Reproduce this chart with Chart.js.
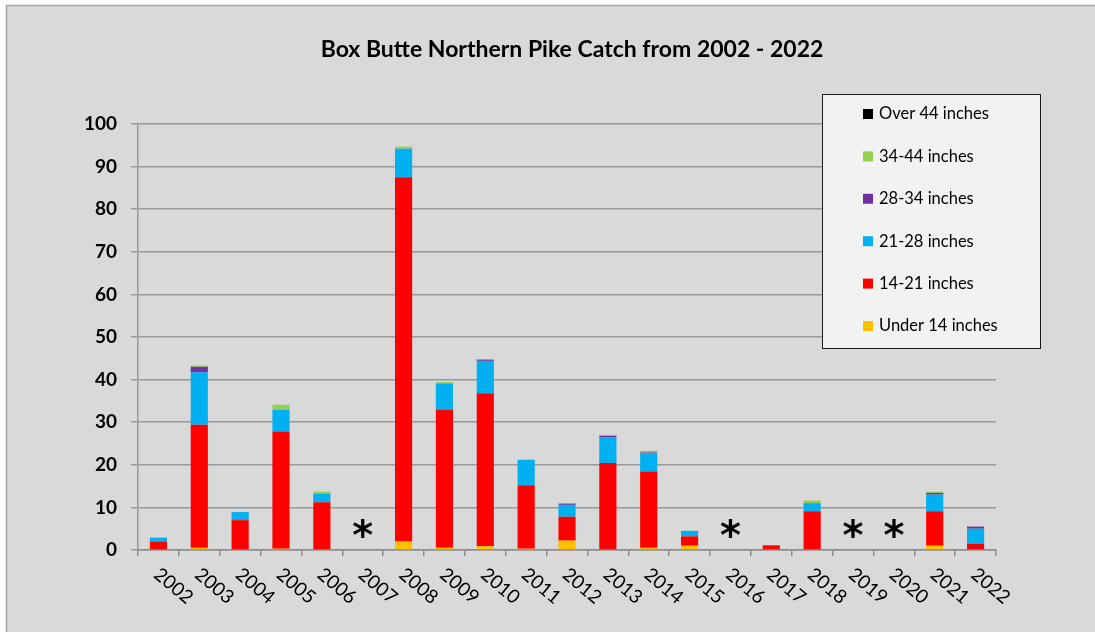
<!DOCTYPE html>
<html>
<head>
<meta charset="utf-8">
<title>Box Butte Northern Pike Catch</title>
<script src="https://cdn.jsdelivr.net/npm/chart.js@4/dist/chart.umd.min.js"></script>
<style>
  html, body { margin: 0; padding: 0; background: #ffffff; }
  #wrap { width: 1095px; height: 632px; }
</style>
</head>
<body>
<div id="wrap"><canvas id="pikeChart" width="1095" height="632"></canvas></div>
<script>
  // Survey years and catch per length class
  const years = ['2002', '2003', '2004', '2005', '2006', '2007', '2008', '2009', '2010', '2011', '2012',
                 '2013', '2014', '2015', '2016', '2017', '2018', '2019', '2020', '2021', '2022'];
  const under14 = [0, 0.5, 0, 0.3, 0, 0, 2, 0.5, 0.9, 0.3, 2.2, 0, 0.5, 1, 0, 0, 0, 0, 0, 1, 0];
  const in14to21 = [2, 28.9, 7, 27.5, 11.2, 0, 85.5, 32.4, 35.9, 14.9, 5.6, 20.4, 17.9, 2.2, 0, 1.1, 9.1, 0, 0, 8.1, 1.5];
  const in21to28 = [0.9, 12.3, 1.9, 5.1, 2, 0, 6.7, 6.2, 7.6, 6, 2.8, 6, 4.3, 1.3, 0, 0, 1.9, 0, 0, 3.9, 3.5];
  const in28to34 = [0, 1.3, 0, 0, 0, 0, 0, 0, 0.3, 0, 0.3, 0.4, 0.2, 0, 0, 0, 0, 0, 0, 0.4, 0.5];
  const in34to44 = [0, 0.3, 0, 1.2, 0.5, 0, 0.5, 0.3, 0, 0, 0, 0.2, 0.4, 0, 0, 0, 0.6, 0, 0, 0.3, 0];
  const over44 = [0, 0, 0, 0, 0, 0, 0, 0, 0, 0, 0, 0, 0, 0, 0, 0, 0, 0, 0, 0, 0];
  // years with no survey, marked with an asterisk
  const noSurvey = ['2007', '2016', '2019', '2020'];
  const yTicks = [0, 10, 20, 30, 40, 50, 60, 70, 80, 90, 100];

  const FONT = 'Lato, "Liberation Sans", sans-serif';

  // Frame, title, rotated year labels, asterisks and the boxed legend
  const decorations = {
    id: 'decorations',
    beforeDraw(chart) {
      const ctx = chart.ctx;
      ctx.save();
      ctx.fillStyle = '#ffffff';
      ctx.fillRect(0, 0, chart.width, chart.height);
      ctx.fillStyle = '#d9d9d9';
      ctx.fillRect(6, 5, chart.width, chart.height);
      ctx.strokeStyle = '#a6a6a6';
      ctx.lineWidth = 1.5;
      ctx.beginPath();
      ctx.moveTo(6.5, chart.height);
      ctx.lineTo(6.5, 5.5);
      ctx.lineTo(chart.width, 5.5);
      ctx.stroke();
      ctx.restore();
    },
    afterDraw(chart) {
      const ctx = chart.ctx;
      const x = chart.scales.x;
      const y = chart.scales.y;
      ctx.save();

      // title
      ctx.fillStyle = '#000000';
      ctx.font = 'bold 23px ' + FONT;
      ctx.textAlign = 'center';
      ctx.textBaseline = 'middle';
      ctx.fillText('Box Butte Northern Pike Catch from 2002 - 2022', 572, 50);

      // year labels, rotated clockwise
      ctx.font = '19px ' + FONT;
      years.forEach((yr, i) => {
        const px = x.getPixelForValue(i);
        ctx.save();
        ctx.translate(px + 15, 586);
        ctx.rotate(40 * Math.PI / 180);
        ctx.textAlign = 'center';
        ctx.textBaseline = 'middle';
        ctx.fillText(yr, 0, 0);
        ctx.restore();
      });

      // asterisks for years without a survey
      ctx.font = 'bold 40px "DejaVu Sans", sans-serif';
      ctx.textAlign = 'center';
      ctx.textBaseline = 'middle';
      noSurvey.forEach(yr => {
        const px = x.getPixelForValue(years.indexOf(yr));
        ctx.fillText('*', px, y.getPixelForValue(2.6));
      });

      // legend box
      const lx = 822.5, ly = 94.5, lw = 218, lh = 254;
      ctx.fillStyle = '#f2f2f2';
      ctx.fillRect(lx, ly, lw, lh);
      ctx.strokeStyle = '#1a1a1a';
      ctx.lineWidth = 1;
      ctx.strokeRect(lx, ly, lw, lh);

      ctx.font = '16.5px ' + FONT;
      ctx.textAlign = 'left';
      ctx.textBaseline = 'middle';
      const items = chart.data.datasets.slice().reverse();
      items.forEach((ds, i) => {
        const cy = 114 + i * 42.4;
        ctx.fillStyle = ds.backgroundColor;
        ctx.fillRect(863, cy - 5, 10, 10);
        ctx.fillStyle = '#000000';
        ctx.fillText(ds.label, 879, cy);
      });
      ctx.restore();
    }
  };

  const ctx = document.getElementById('pikeChart').getContext('2d');
  const pikeChart = new Chart(ctx, {
    type: 'bar',
    data: {
      labels: years,
      datasets: [
        { label: 'Under 14 inches', data: under14, backgroundColor: '#ffc000' },
        { label: '14-21 inches', data: in14to21, backgroundColor: '#ff0000' },
        { label: '21-28 inches', data: in21to28, backgroundColor: '#00b0f0' },
        { label: '28-34 inches', data: in28to34, backgroundColor: '#7030a0' },
        { label: '34-44 inches', data: in34to44, backgroundColor: '#92d050' },
        { label: 'Over 44 inches', data: over44, backgroundColor: '#000000' }
      ]
    },
    options: {
      responsive: false,
      animation: false,
      layout: { padding: { left: 78, right: 99, top: 124, bottom: 0 } },
      datasets: {
        bar: { categoryPercentage: 1, barPercentage: 0.42, borderWidth: 0 }
      },
      plugins: {
        legend: { display: false },
        title: { display: false },
        tooltip: { enabled: false }
      },
      scales: {
        x: {
          stacked: true,
          offset: true,
          grid: {
            offset: true,
            drawOnChartArea: false,
            drawTicks: true,
            tickLength: 6,
            color: '#8c8c8c',
            lineWidth: 1.5
          },
          border: { color: '#8c8c8c', width: 1.5 },
          ticks: { display: false },
          afterFit(scale) { scale.height = 82; }
        },
        y: {
          stacked: true,
          min: 0,
          max: 100,
          afterBuildTicks(scale) { scale.ticks = yTicks.map(v => ({ value: v })); },
          grid: {
            color: '#999999',
            lineWidth: 1.5,
            tickLength: 7
          },
          border: { color: '#999999', width: 1.5 },
          ticks: {
            color: '#000000',
            padding: 14,
            font: { family: FONT, size: 19, weight: 'bold' }
          },
          afterFit(scale) { scale.width = 60; }
        }
      }
    },
    plugins: [decorations]
  });
</script>
</body>
</html>
